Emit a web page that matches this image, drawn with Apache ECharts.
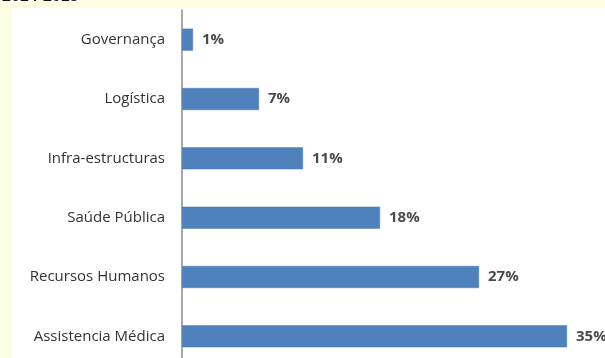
<!DOCTYPE html>
<html>
<head>
<meta charset="utf-8">
<script src="https://cdn.jsdelivr.net/npm/echarts@6/dist/echarts.min.js"></script>
<style>
  html, body { margin: 0; padding: 0; background: #fdfde3; overflow: hidden; }
  #chart { width: 605px; height: 372px; }
</style>
</head>
<body>
<div id="chart"></div>
<script>
// Areas of intervention, listed top to bottom
const categories = ['Governança', 'Logística', 'Infra-estructuras', 'Saúde Pública', 'Recursos Humanos', 'Assistencia Médica'];
// Share of each area, in percent
const shares = [1, 7, 11, 18, 27, 35];
const periodLabel = '2014-2015';

const chart = echarts.init(document.getElementById('chart'), null, { renderer: 'canvas' });

chart.setOption({
  animation: false,
  backgroundColor: '#fdfde3',
  graphic: [
    {
      type: 'rect',
      shape: { x: 12, y: 8, width: 600, height: 370 },
      style: { fill: '#ffffff' },
      z: -10
    },
    {
      type: 'text',
      x: 2,
      y: -11,
      style: {
        text: periodLabel,
        fill: '#111',
        font: 'bold 16px "Liberation Sans", Arial, sans-serif'
      }
    }
  ],
  grid: { left: 182, top: 10, width: 396, height: 356, containLabel: false },
  xAxis: {
    type: 'value',
    min: 0,
    max: 36,
    show: false
  },
  yAxis: {
    type: 'category',
    inverse: true,
    data: categories,
    axisLine: { show: true, lineStyle: { color: '#8c8c8c', width: 1.5 } },
    axisTick: { show: false },
    axisLabel: {
      margin: 17,
      color: '#333333',
      fontSize: 15,
      fontFamily: '"Open Sans", "Noto Sans", sans-serif'
    }
  },
  series: [{
    type: 'bar',
    data: shares,
    barWidth: 22,
    itemStyle: { color: '#4f81bd', borderColor: '#4a7cb8', borderWidth: 0.5 },
    label: {
      show: true,
      position: 'right',
      distance: 9,
      formatter: '{c}%',
      color: '#4a4a4a',
      fontSize: 15,
      fontWeight: 'bold',
      fontFamily: '"Open Sans", "Noto Sans", sans-serif'
    }
  }]
});
</script>
</body>
</html>
